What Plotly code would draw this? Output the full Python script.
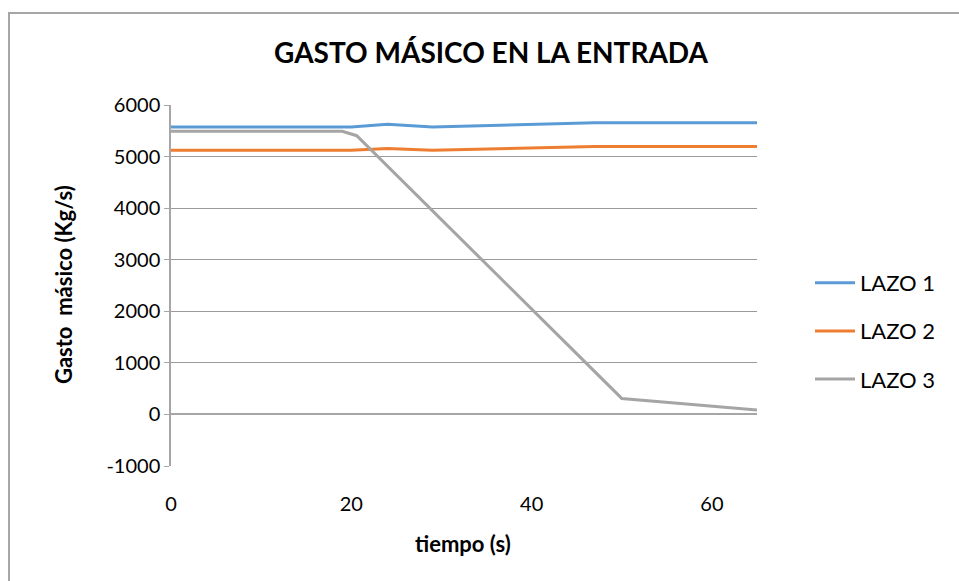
import plotly.graph_objects as go

# Data
t_12 = [0, 20, 24, 29, 47, 65]
lazo1 = [5575, 5575, 5625, 5575, 5655, 5655]
lazo2 = [5122, 5122, 5158, 5122, 5194, 5194]
t_3 = [0, 19, 20.6, 50, 65]
lazo3 = [5490, 5490, 5405, 310, 85]

names = ["LAZO 1", "LAZO 2", "LAZO 3"]
colors = ["#5B9BD5", "#ED7D31", "#A5A5A5"]
x_ticks = [0, 20, 40, 60]
y_ticks = [-1000, 0, 1000, 2000, 3000, 4000, 5000, 6000]

FONT = "Lato"
W, H = 959, 581
L, R, T, B = 171, 757, 105, 466
pw, ph = R - L, B - T

def px_x(px):
    return (px - L) / pw

def px_y(py):
    return (B - py) / ph

fig = go.Figure()
for nm, xs, ys, c in zip(names, [t_12, t_12, t_3], [lazo1, lazo2, lazo3], colors):
    fig.add_trace(go.Scatter(x=xs, y=ys, mode="lines", name=nm, legendgroup=nm,
                             line=dict(color=c, width=3)))

fig.update_layout(
    width=W, height=H,
    margin=dict(l=L, r=W - R, t=T, b=H - B, autoexpand=False),
    paper_bgcolor="white", plot_bgcolor="white",
    font=dict(family=FONT, size=19, color="black"),
    title=dict(text="<b>GASTO MÁSICO EN LA ENTRADA</b>", font=dict(size=28, family=FONT),
               xref="paper", x=px_x(491), xanchor="center",
               yref="container", y=1 - 53 / H, yanchor="middle"),
    showlegend=True,
    legend=dict(x=px_x(810), xanchor="left", y=px_y(262), yanchor="top",
                font=dict(size=22, family=FONT), tracegroupgap=16.5,
                itemwidth=40, bgcolor="rgba(0,0,0,0)"),
)

fig.update_xaxes(range=[0, 65], tickvals=x_ticks, ticktext=[str(v) for v in x_ticks],
                 showgrid=False, zeroline=False, showline=False, ticks="",
                 ticklabelstandoff=24, tickfont=dict(size=20, family=FONT))
fig.update_yaxes(range=[-1000, 6000], tickvals=y_ticks, ticktext=[str(v) for v in y_ticks],
                 showgrid=True, gridcolor="#9a9a9a", gridwidth=1,
                 zeroline=True, zerolinecolor="#a6a6a6", zerolinewidth=2,
                 showline=True, linecolor="#a6a6a6", linewidth=1.5,
                 ticks="outside", ticklen=5, tickcolor="#a6a6a6",
                 tickfont=dict(size=20, family=FONT))

fig.add_annotation(text="<b>tiempo (s)</b>", xref="paper", yref="paper",
                   x=px_x(463), y=px_y(543), xanchor="center", yanchor="middle",
                   showarrow=False, font=dict(size=22, family=FONT))
fig.add_annotation(text="<b>Gasto  másico (Kg/s)</b>", xref="paper", yref="paper",
                   x=px_x(63), y=px_y(285), xanchor="center", yanchor="middle",
                   textangle=-90, showarrow=False, font=dict(size=22, family=FONT))

# outer chart border
fig.add_shape(type="rect", xref="paper", yref="paper",
              x0=px_x(9), x1=px_x(975), y0=px_y(600), y1=px_y(13),
              line=dict(color="#a6a6a6", width=2), fillcolor="rgba(0,0,0,0)", layer="below")

fig.write_html("out.html", config={"displayModeBar": False},
               post_script="document.body.style.margin='0';document.body.style.overflow='hidden';")
